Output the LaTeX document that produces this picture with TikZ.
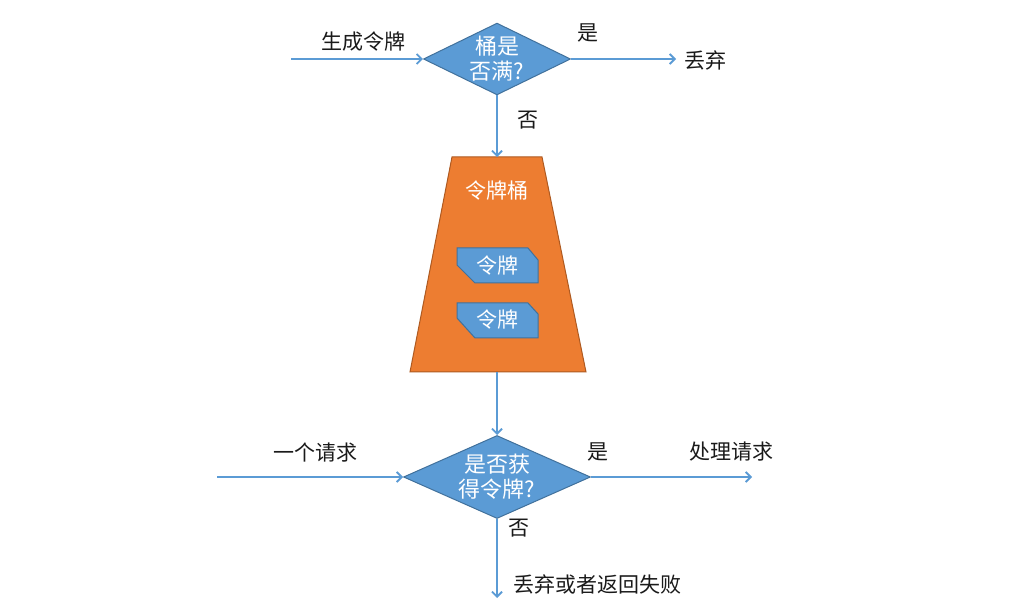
\documentclass[tikz,border=0pt]{standalone}
\usepackage{fontspec}
\setmainfont{Noto Sans CJK SC}
\usetikzlibrary{shapes.geometric,arrows.meta}
\definecolor{blu}{HTML}{5B9BD5}
\definecolor{bludark}{HTML}{41719C}
\definecolor{org}{HTML}{ED7D31}
\definecolor{orgdark}{HTML}{AE5A21}
\definecolor{txt}{HTML}{1A1A1A}
\tikzset{
  lbl/.style={font=\fontsize{21}{25}\selectfont, text=txt, inner sep=0},
  wlbl/.style={font=\fontsize{21}{25}\selectfont, text=white, inner sep=0},
  dec/.style={diamond, draw=bludark, fill=blu, line width=1pt, text=white, align=center,
              inner sep=0, font=\fontsize{22}{25}\selectfont},
  arr/.style={draw=blu, line width=2.2pt, -{Straight Barb[length=5pt,width=10pt,line width=1.8pt]}},
  tokenbox/.style={draw=bludark, fill=blu, line width=1pt},
  bucket/.style={draw=orgdark, fill=org, line width=1pt}
}
\begin{document}
\begin{tikzpicture}[x=1pt,y=-1pt]
\useasboundingbox[fill=white] (0,0) rectangle (1010,609);

% top decision
\node[dec, minimum width=141, minimum height=69, aspect=2.05] (d1) at (497,59) {桶是\\否满?};
\coordinate (in1) at (291,59);
\coordinate (out1) at (676,59);
\draw[arr] (in1) -- (d1.west);
\draw[arr] (d1.east) -- (out1);
\node[lbl] (l1) at (363,42) {生成令牌};
\node[lbl] (yes1) at (588,33) {是};
\node[lbl] (drop1) at (705,60) {丢弃};
\node[lbl] (no1) at (528,120) {否};

% bucket
\coordinate (tTL) at (452,157);
\coordinate (tTR) at (542,157);
\coordinate (tBR) at (586,372);
\coordinate (tBL) at (410,372);
\coordinate (ttop) at (497,157);
\coordinate (tbot) at (497,372);
\draw[bucket] (tTL) -- (tTR) -- (tBR) -- (tBL) -- cycle;
\node[wlbl] (bname) at (497,191) {令牌桶};

% tokens
\draw[tokenbox] (457,248) -- (528,248) -- (538,260) -- (538,283) -- (475,283) -- (457,265) -- cycle;
\node[wlbl] (tok1) at (497,266) {令牌};
\draw[tokenbox] (457,303) -- (528,303) -- (538,314) -- (538,338) -- (475,338) -- (457,318) -- cycle;
\node[wlbl] (tok2) at (497,320) {令牌};

\draw[arr] (d1.south) -- (ttop);

% bottom decision
\node[dec, minimum width=187, minimum height=83, aspect=2.25] (d2) at (497,477) {是否获\\得令牌?};
\draw[arr] (tbot) -- (d2.north);
\coordinate (in2) at (217,477);
\coordinate (out2) at (752,477);
\coordinate (out3) at (497,598);
\draw[arr] (in2) -- (d2.west);
\draw[arr] (d2.east) -- (out2);
\draw[arr] (d2.south) -- (out3);
\node[lbl] (l2) at (315,453) {一个请求};
\node[lbl] (yes2) at (598,452) {是};
\node[lbl] (proc) at (731,452) {处理请求};
\node[lbl] (no2) at (519,528) {否};
\node[lbl, anchor=west] (fail) at (513,584) {丢弃或者返回失败};
\end{tikzpicture}
\end{document}
